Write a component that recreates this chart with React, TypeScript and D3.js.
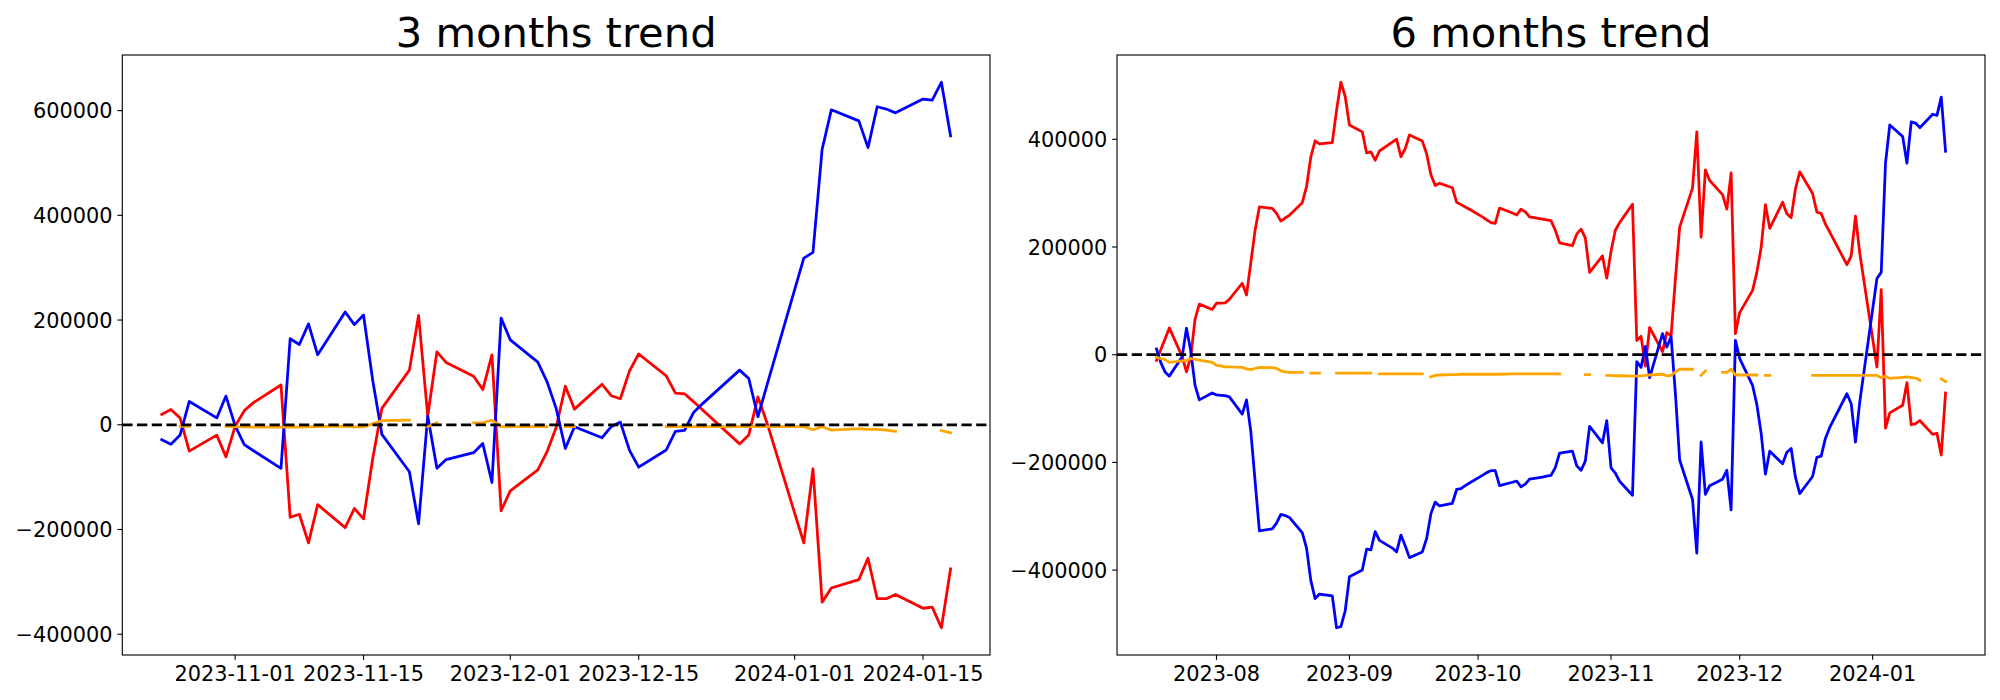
import React from "react";
import * as d3 from "d3";

// ---------- 3 months trend ----------
const dates3m = [
  "2023-10-24","2023-10-25","2023-10-26","2023-10-27","2023-10-30","2023-10-31",
  "2023-11-01","2023-11-02","2023-11-03","2023-11-06","2023-11-07","2023-11-08","2023-11-09","2023-11-10",
  "2023-11-13","2023-11-14","2023-11-15","2023-11-16","2023-11-17","2023-11-20","2023-11-21","2023-11-22",
  "2023-11-23","2023-11-24","2023-11-27","2023-11-28","2023-11-29","2023-11-30",
  "2023-12-01","2023-12-04","2023-12-05","2023-12-06","2023-12-07","2023-12-08","2023-12-11","2023-12-12",
  "2023-12-13","2023-12-14","2023-12-15","2023-12-18","2023-12-19","2023-12-20","2023-12-21","2023-12-22",
  "2023-12-26","2023-12-27","2023-12-28","2023-12-29",
  "2024-01-02","2024-01-03","2024-01-04","2024-01-05","2024-01-08","2024-01-09","2024-01-10","2024-01-11",
  "2024-01-12","2024-01-15","2024-01-16","2024-01-17","2024-01-18",
];
const red3m = [
  19700, 29200, 13100, -50400, -19700, -61300,
  -2900, 27000, 42300, 75900, -176700, -170800, -225600, -152600,
  -196400, -159900, -179600, -65000, 31400, 104400, 208800, 16800,
  139400, 119000, 92700, 67200, 133600, -164300,
  -126300, -86100, -51800, -5100, 73700, 29900, 77400, 55500,
  49600, 102900, 135100, 93400, 60600, 59100, 43800, 27700,
  -36500, -19700, 53300, 3000,
  -225600, -84000, -338700, -311700, -295700, -254800, -332200, -332200,
  -324100, -350400, -348200, -387600, -275200,
];
const blue3m = [
  -28500, -37200, -19700, 44500, 13100, 54800,
  -1500, -38000, -49600, -83200, 164300, 153300, 192700, 133600,
  215400, 191300, 209500, 85000, -18300, -89800, -189100, 16800,
  -83200, -66400, -53300, -35800, -110200, 203700,
  162100, 119700, 82500, 31400, -45300, -3650, -24800, -3650,
  5100, -48900, -81000, -48200, -12400, -10900, 24100, 40900,
  104400, 88300, 15300, 76600,
  318300, 329200, 526300, 601500, 580400, 529300, 607400, 603000,
  595700, 622000, 619800, 654100, 551900,
];
const orange3m: (number | null)[] = [
  null, null, -2500, -3000, null, -3000,
  -3500, -4000, -4500, -4500, -4500, -4500, -4000, -3500,
  -2500, -4000, -4000, 2000, 8000, 9000, null, -3650,
  3650, null, 3800, 3800, 9000, -3650,
  -3650, -3650, -3650, null, -3650, -3650, null, null,
  null, null, null, -3650, -3650, -3650, -3650, -3650,
  -3650, -3650, -3650, -3650,
  -3650, -9500, -3650, -10200, -7300, -8800, -8800, -10200,
  -12400, null, null, -11000, -15300,
];
const yTicks3m = [-400000, -200000, 0, 200000, 400000, 600000];
const xTicks3m = ["2023-11-01", "2023-11-15", "2023-12-01", "2023-12-15", "2024-01-01", "2024-01-15"];

// ---------- 6 months trend ----------
const dates6m = [
  "2023-07-18","2023-07-19","2023-07-20","2023-07-21","2023-07-24","2023-07-25","2023-07-26","2023-07-27","2023-07-28","2023-07-31",
  "2023-08-01","2023-08-02","2023-08-03","2023-08-04","2023-08-07","2023-08-08","2023-08-09","2023-08-10","2023-08-11",
  "2023-08-14","2023-08-15","2023-08-16","2023-08-17","2023-08-18","2023-08-21","2023-08-22","2023-08-23","2023-08-24",
  "2023-08-25","2023-08-28","2023-08-29","2023-08-30","2023-08-31",
  "2023-09-01","2023-09-04","2023-09-05","2023-09-06","2023-09-07","2023-09-08","2023-09-11","2023-09-12","2023-09-13",
  "2023-09-14","2023-09-15","2023-09-18","2023-09-19","2023-09-20","2023-09-21","2023-09-22","2023-09-25","2023-09-26",
  "2023-09-27","2023-09-28","2023-09-29",
  "2023-10-02","2023-10-03","2023-10-04","2023-10-05","2023-10-06","2023-10-09","2023-10-10","2023-10-11","2023-10-12",
  "2023-10-13","2023-10-16","2023-10-17","2023-10-18","2023-10-19","2023-10-20","2023-10-23","2023-10-24","2023-10-25",
  "2023-10-26","2023-10-27","2023-10-30","2023-10-31",
  "2023-11-01","2023-11-02","2023-11-03","2023-11-06","2023-11-07","2023-11-08","2023-11-09","2023-11-10","2023-11-13",
  "2023-11-14","2023-11-15","2023-11-16","2023-11-17","2023-11-20","2023-11-21","2023-11-22","2023-11-23","2023-11-24",
  "2023-11-27","2023-11-28","2023-11-29","2023-11-30",
  "2023-12-01","2023-12-04","2023-12-05","2023-12-06","2023-12-07","2023-12-08","2023-12-11","2023-12-12","2023-12-13",
  "2023-12-14","2023-12-15","2023-12-18","2023-12-19","2023-12-20","2023-12-21","2023-12-22","2023-12-26","2023-12-27",
  "2023-12-28","2023-12-29",
  "2024-01-02","2024-01-03","2024-01-04","2024-01-05","2024-01-08","2024-01-09","2024-01-10","2024-01-11","2024-01-12",
  "2024-01-15","2024-01-16","2024-01-17","2024-01-18",
];
const red6m = [
  -10700, 9200, 29200, 49800, -3600, -32000, -3600, 66100, 93900, 83900,
  95700, 95700, 96400, 102700, 132700, 110900, 170600, 231000, 274400,
  271600, 262400, 248100, 253800, 258800, 282200, 312000, 367500, 397300,
  391600, 393700, 454100, 505900, 480000,
  426600, 413800, 374700, 376800, 361200, 378300, 394600, 400300, 367600,
  382500, 408100, 396700, 373300, 334200, 314300, 318500, 310000, 283000,
  278700, 274400, 270200,
  256000, 250300, 245300, 243900, 272300, 263100, 259500, 270200, 265200,
  256000, 251700, 250300, 248900, 231100, 207600, 202600, 223900, 233200,
  216900, 152900, 183500, 142200,
  192000, 231100, 245300, 279400, 26300, 34100, -21300, 50500, 5700,
  41200, 35000, 140000, 236800, 309300, 413800, 218300, 343400, 323500,
  297200, 270200, 337700, 39100,
  78200, 119400, 152900, 198900, 278700, 234600, 283000, 261700, 254500,
  307800, 339600, 299300, 264500, 262400, 242500, 227500, 167100, 183400,
  257400, 188400,
  -22800, 120900, -136500, -108100, -93900, -51900, -130100, -128000, -122300,
  -147900, -145800, -186300, -71100,
];
const blue6m = [
  10700, -14200, -32000, -39800, -3600, 49100, 7100, -56900, -83900, -71100,
  -74700, -75400, -76100, -78200, -110200, -83900, -142200, -234600, -327100,
  -323500, -312800, -296500, -298600, -302200, -330600, -359100, -419500, -452900,
  -444400, -448000, -507000, -504800, -476400,
  -412500, -399700, -361200, -362600, -328500, -344800, -359100, -366200, -334900,
  -354800, -376800, -366200, -341300, -295100, -273700, -280800, -275900, -250300,
  -248900, -243200, -238200,
  -224000, -219000, -215400, -215400, -243200, -236800, -234600, -245300, -240300,
  -231100, -227500, -225400, -224000, -209700, -182700, -179200, -206200, -214700,
  -197700, -133000, -163600, -122300,
  -210000, -220000, -235000, -261000, -12800, -23500, 15600, -42700, 39100,
  14200, 33400, -71100, -195500, -268800, -368300, -162100, -259500, -243200,
  -231100, -214700, -288000, 26700,
  -7100, -56900, -92400, -145800, -221800, -179200, -202600, -181300, -174200,
  -227500, -258100, -226100, -190500, -188400, -155000, -135100, -72500, -91000,
  -162100, -87500,
  141500, 152900, 355600, 426600, 405300, 355600, 432300, 430200, 421600,
  446500, 444400, 478200, 377900,
];
const orange6m: (number | null)[] = [
  -5000, -7100, -9200, -14200, -11400, -11400, -7100, -8500, -10000, -14200,
  -19900, -20600, -22800, -22800, -23500, -26300, -27700, -25600, -23500,
  -24200, -25600, -29900, -32000, -32700, -32700, null, -34100, -34100,
  -34100, null, -34100, -34100, -34100,
  -34100, -34100, -34100, -34100, null, -35500, -35500, -35500, -35500,
  -35500, -35500, -35500, null, -41200, -38400, -37700, -37000, -37000,
  -36300, -36300, -36300,
  -36300, -36300, -36300, -36300, -36300, -35500, -35500, -35500, -35500,
  -35500, -35500, -35500, -35500, -35500, -35500, null, null, null,
  -37000, -37000, null, -38400,
  -38400, -39100, -39100, -39800, -39800, -39100, -38400, -37700, -36300,
  -39100, -38400, -32000, -27000, -27000, null, -38400, -30000, null,
  -32700, -32700, -27000, -37700,
  -37700, -37700, -37700, null, -38400, -38400, null, null, null,
  null, null, -38400, -38400, -38400, -38400, -38400, -38400, -38400,
  -38400, -38400,
  -38400, -42700, -39800, -44100, -42000, -41200, -42700, -43400, -47600,
  null, null, -44800, -49800,
];
const yTicks6m = [-400000, -200000, 0, 200000, 400000];
const xTicks6m = ["2023-08-01", "2023-09-01", "2023-10-01", "2023-11-01", "2023-12-01", "2024-01-01"];

const FONT = "'DejaVu Sans', sans-serif";
const PX = 100 / 72; // matplotlib points -> px at dpi 100
const parse = d3.timeParse("%Y-%m-%d");
const minus = (s: string) => s.replace("-", "\u2212");

type PanelProps = {
  left: number;
  right: number;
  top: number;
  bottom: number;
  title: string;
  dates: string[];
  red: number[];
  blue: number[];
  orange: (number | null)[];
  yTicks: number[];
  xTicks: string[];
  xFormat: string;
  id: string;
};

function Panel(p: PanelProps) {
  const ds = p.dates.map((s) => parse(s) as Date);
  const t0 = ds[0].getTime();
  const t1 = ds[ds.length - 1].getTime();
  const R = t1 - t0;
  const x = d3
    .scaleTime()
    .domain([new Date(t0 - 0.05 * R), new Date(t1 + 0.05 * R)])
    .range([p.left, p.right]);
  const all = [...p.red, ...p.blue, ...(p.orange.filter((v) => v != null) as number[])];
  const lo = d3.min(all) as number;
  const hi = d3.max(all) as number;
  const m = (hi - lo) * 0.05;
  const y = d3.scaleLinear().domain([lo - m, hi + m]).range([p.bottom, p.top]);

  const mk = (vals: (number | null)[]) =>
    d3
      .line<number | null>()
      .defined((v) => v != null)
      .x((_, i) => x(ds[i]))
      .y((v) => y(v as number))(vals) || "";

  const lw = 2 * PX;
  const tickLen = 3.5 * PX;
  const pad = 3.5 * PX;
  const fs = 15 * PX;
  const fmt = d3.timeFormat(p.xFormat);

  return (
    <g>
      <defs>
        <clipPath id={p.id}>
          <rect x={p.left} y={p.top} width={p.right - p.left} height={p.bottom - p.top} />
        </clipPath>
      </defs>
      <g clipPath={`url(#${p.id})`}>
        <path d={mk(p.red)} fill="none" stroke="#ff0000" strokeWidth={lw} strokeLinejoin="round" strokeLinecap="square" />
        <path d={mk(p.blue)} fill="none" stroke="#0000ff" strokeWidth={lw} strokeLinejoin="round" strokeLinecap="square" />
        <path d={mk(p.orange)} fill="none" stroke="#ffa500" strokeWidth={lw} strokeLinejoin="round" strokeLinecap="square" />
        <line
          x1={p.left}
          x2={p.right}
          y1={y(0)}
          y2={y(0)}
          stroke="#000"
          strokeWidth={lw}
          strokeDasharray={`${3.7 * lw} ${1.6 * lw}`}
          strokeLinecap="butt"
        />
      </g>
      <rect
        x={p.left}
        y={p.top}
        width={p.right - p.left}
        height={p.bottom - p.top}
        fill="none"
        stroke="#000"
        strokeWidth={0.8 * PX}
      />
      {p.yTicks.map((t) => (
        <g key={"y" + t}>
          <line x1={p.left - tickLen} x2={p.left} y1={y(t)} y2={y(t)} stroke="#000" strokeWidth={0.8 * PX} />
          <text
            x={p.left - tickLen - pad}
            y={y(t)}
            dy="0.36em"
            textAnchor="end"
            fontFamily={FONT}
            fontSize={fs}
            fill="#000"
          >
            {minus(String(t))}
          </text>
        </g>
      ))}
      {p.xTicks.map((s) => {
        const d = parse(s) as Date;
        const xx = x(d);
        return (
          <g key={"x" + s}>
            <line x1={xx} x2={xx} y1={p.bottom} y2={p.bottom + tickLen} stroke="#000" strokeWidth={0.8 * PX} />
            <text
              x={xx}
              y={p.bottom + tickLen + pad + 0.76 * fs}
              textAnchor="middle"
              fontFamily={FONT}
              fontSize={fs}
              fill="#000"
            >
              {fmt(d)}
            </text>
          </g>
        );
      })}
      <text
        x={(p.left + p.right) / 2}
        y={p.top - 6 * PX}
        textAnchor="middle"
        fontFamily={FONT}
        fontSize={30 * PX}
        fill="#000"
      >
        {p.title}
      </text>
    </g>
  );
}

export default function App() {
  return (
    <div style={{ position: "absolute", left: 0, top: 0, width: 2000, height: 700, background: "#fff" }}>
      <svg width={2000} height={700} viewBox="0 0 2000 700" style={{ display: "block" }}>
        <rect x={0} y={0} width={2000} height={700} fill="#fff" />
        <Panel
          id="clipL"
          left={122.3}
          right={990}
          top={55}
          bottom={655}
          title="3 months trend"
          dates={dates3m}
          red={red3m}
          blue={blue3m}
          orange={orange3m}
          yTicks={yTicks3m}
          xTicks={xTicks3m}
          xFormat="%Y-%m-%d"
        />
        <Panel
          id="clipR"
          left={1117}
          right={1985}
          top={55}
          bottom={655}
          title="6 months trend"
          dates={dates6m}
          red={red6m}
          blue={blue6m}
          orange={orange6m}
          yTicks={yTicks6m}
          xTicks={xTicks6m}
          xFormat="%Y-%m"
        />
      </svg>
    </div>
  );
}
